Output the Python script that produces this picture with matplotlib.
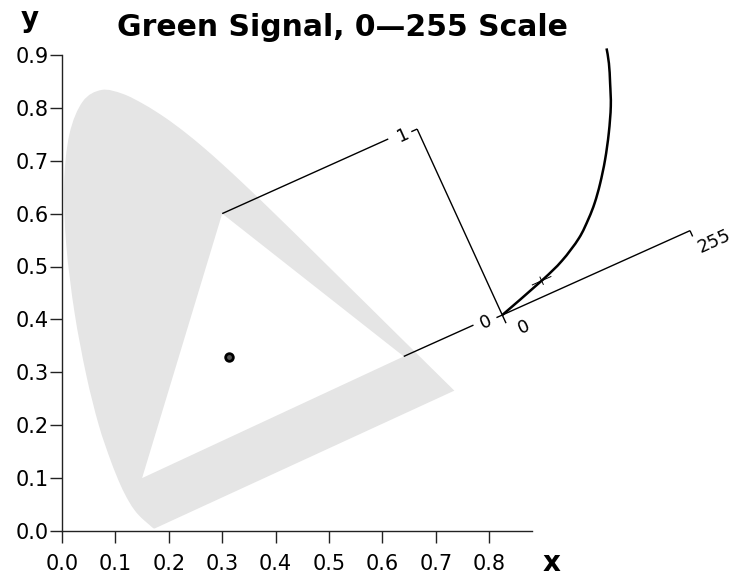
import numpy as np
import matplotlib
matplotlib.use("Agg")
import matplotlib.pyplot as plt
from matplotlib.path import Path
from matplotlib.patches import PathPatch

# CIE 1931 spectral locus, 380-700 nm
locus_x = [0.1741, 0.1740, 0.1738, 0.1736, 0.1733, 0.1730, 0.1726, 0.1721, 0.1714, 0.1703,
           0.1689, 0.1669, 0.1644, 0.1611, 0.1566, 0.1510, 0.1440, 0.1355, 0.1241, 0.1096,
           0.0913, 0.0687, 0.0454, 0.0235, 0.0082, 0.0039, 0.0139, 0.0389, 0.0743, 0.1142,
           0.1547, 0.1929, 0.2296, 0.2658, 0.3016, 0.3373, 0.3731, 0.4087, 0.4441, 0.4788,
           0.5125, 0.5448, 0.5752, 0.6029, 0.6270, 0.6482, 0.6658, 0.6801, 0.6915, 0.7006,
           0.7079, 0.7140, 0.7190, 0.7230, 0.7260, 0.7283, 0.7300, 0.7311, 0.7320, 0.7334,
           0.7344, 0.7347]
locus_y = [0.0050, 0.0050, 0.0049, 0.0049, 0.0048, 0.0048, 0.0048, 0.0048, 0.0051, 0.0058,
           0.0069, 0.0086, 0.0109, 0.0138, 0.0177, 0.0227, 0.0297, 0.0399, 0.0578, 0.0868,
           0.1327, 0.2007, 0.2950, 0.4127, 0.5384, 0.6548, 0.7502, 0.8120, 0.8338, 0.8262,
           0.8059, 0.7816, 0.7543, 0.7243, 0.6923, 0.6589, 0.6245, 0.5896, 0.5547, 0.5202,
           0.4866, 0.4544, 0.4242, 0.3965, 0.3725, 0.3514, 0.3340, 0.3197, 0.3083, 0.2993,
           0.2920, 0.2859, 0.2809, 0.2770, 0.2740, 0.2717, 0.2700, 0.2689, 0.2680, 0.2666,
           0.2656, 0.2653]

# RGB primaries (red, green, blue) and white point
prim_x = [0.64, 0.30, 0.15]
prim_y = [0.33, 0.60, 0.10]
white_x, white_y = 0.3127, 0.3290

# green code value -> linear signal
code_vals = [0, 62, 95, 126, 147, 162, 178, 196, 214, 230, 241, 250, 255]
signal_vals = [0, 0.074, 0.122, 0.189, 0.257, 0.315, 0.39, 0.487, 0.599, 0.714, 0.817, 0.909, 0.98]
mark_code, mark_signal = 62, 0.074


def smooth_path(xs, ys, close=False):
    # Catmull-Rom curve through the points, written as cubic Beziers
    pts = np.column_stack([xs, ys])
    n = len(pts)
    verts = [pts[0]]
    codes = [Path.MOVETO]
    for i in range(n - 1):
        p0 = pts[max(i - 1, 0)]
        p1, p2 = pts[i], pts[i + 1]
        p3 = pts[min(i + 2, n - 1)]
        verts += [p1 + (p2 - p0) / 6, p2 - (p3 - p1) / 6, p2]
        codes += [Path.CURVE4] * 3
    if close:
        verts.append(pts[0])
        codes.append(Path.LINETO)
    return Path(verts, codes)


fig = plt.figure(figsize=(7.35, 5.76), dpi=100)
ax = fig.add_axes([0, 0, 1, 1])
ax.set_xlim(-62 / 534, (735 - 62) / 534)
ax.set_ylim((531 - 576) / 529, 531 / 529)

# locus, closed by a straight line of purples, then the gamut triangle
ax.add_patch(PathPatch(smooth_path(locus_x, locus_y, close=True), fc="#e5e5e5", lw=0, zorder=1))
ax.fill(prim_x, prim_y, color="white", lw=0, zorder=2)

# signal axes: d1 runs along lines of constant green, d2 across them
ang = 24.4
d1 = np.array([np.cos(np.radians(ang)), np.sin(np.radians(ang))])
d2 = np.array([-d1[1], d1[0]])
O = np.array([0.8245, 0.4083])
L = 0.386
gap = 0.057
R = np.array([prim_x[0], prim_y[0]])
G = np.array([prim_x[1], prim_y[1]])


def seg(p, q, **kw):
    ax.plot([p[0], q[0]], [p[1], q[1]], color="black", solid_capstyle="butt", zorder=3, **kw)


# projection lines from the primaries onto the 0-1 axis
for P in (G, R):
    s = np.dot(O - P, d1)
    seg(P, P + (s - gap) * d1, lw=1.0)

# 0-1 axis with end ticks
tk = 0.012
seg(O, O + L * d2, lw=1.0)
seg(O, O - tk * d1, lw=1.0)
seg(O + L * d2, O + L * d2 - tk * d1, lw=1.0)
# 0-255 axis with end ticks
seg(O, O + L * d1, lw=1.0)
seg(O, O - 0.017 * d2, lw=1.0)
seg(O + L * d1, O + L * d1 - 0.012 * d2, lw=1.0)

lab = dict(fontsize=13, rotation=ang, rotation_mode="anchor", ha="center", va="center", zorder=4)
p = O + L * d2 - 0.028 * d1
ax.text(p[0], p[1], "1", **lab)
p = O - 0.033 * d1
ax.text(p[0], p[1], "0", **lab)
p = O + 0.028 * d1 - 0.038 * d2
ax.text(p[0], p[1], "0", **lab)
p = O + (L + 0.033) * d1 - 0.038 * d2
ax.text(p[0], p[1], "255", **lab)

# transfer curve in the local frame
u = np.array(code_vals) / 255 * L
w = np.array(signal_vals) * L
cx = O[0] + u * d1[0] + w * d2[0]
cy = O[1] + u * d1[1] + w * d2[1]
ax.add_patch(PathPatch(smooth_path(cx, cy), fc="none", ec="black", lw=1.8, zorder=4))

m = O + mark_code / 255 * L * d1 + mark_signal * L * d2
seg(m - 0.02 * d1, m + 0.02 * d1, lw=0.7)
seg(m - 0.0085 * d2, m + 0.0085 * d2, lw=0.7)

ax.plot([white_x], [white_y], "o", ms=5.5, mfc="#555555", mec="black", mew=2.0, zorder=5)

# chart axes
for s in ["top", "right"]:
    ax.spines[s].set_visible(False)
ax.spines["left"].set_position(("data", 0))
ax.spines["bottom"].set_position(("data", 0))
ax.spines["left"].set_bounds(0, 0.9)
ax.spines["bottom"].set_bounds(0, 0.88)
for s in ["left", "bottom"]:
    ax.spines[s].set_color("#222222")
    ax.spines[s].set_linewidth(1.0)
ax.set_xticks(np.arange(0, 0.81, 0.1))
ax.set_yticks(np.arange(0, 0.91, 0.1))
ax.xaxis.set_major_formatter(matplotlib.ticker.FormatStrFormatter("%.1f"))
ax.yaxis.set_major_formatter(matplotlib.ticker.FormatStrFormatter("%.1f"))
ax.tick_params(direction="out", length=8.5, width=1.0, color="#222222", labelsize=15, pad=1)
ax.tick_params(axis="x", pad=8)

fig.text(342 / 735, 1 - 28 / 576, "Green Signal, 0\u2014255 Scale", fontsize=21.5,
         fontweight="bold", ha="center", va="center")
fig.text(30 / 735, 1 - 19 / 576, "y", fontsize=20, fontweight="bold", ha="center", va="center")
fig.text(552 / 735, 1 - 563 / 576, "x", fontsize=20, fontweight="bold", ha="center", va="center")

fig.savefig("out.png", dpi=100)
